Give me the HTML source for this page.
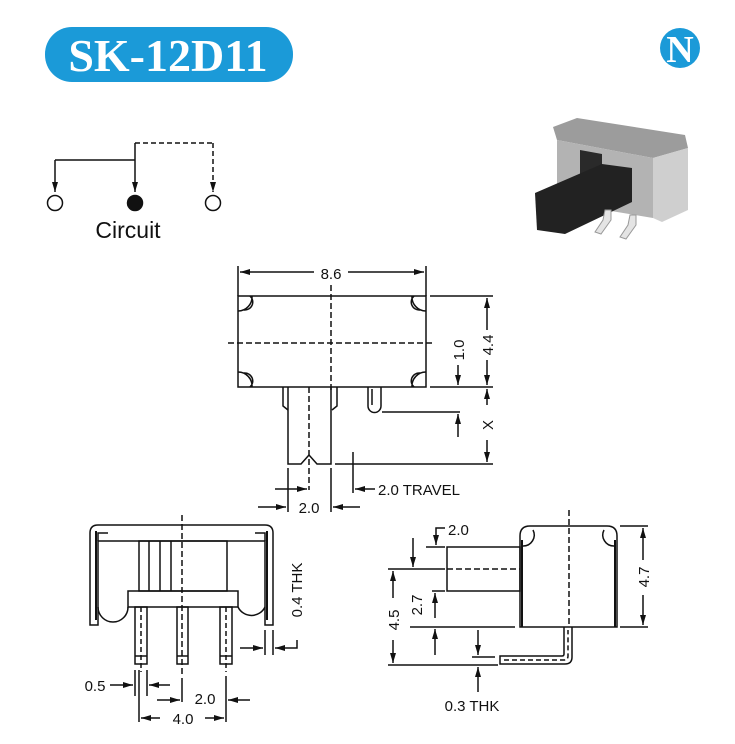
<!DOCTYPE html>
<html><head><meta charset="utf-8"><style>
html,body{margin:0;padding:0;background:#fff}
svg{display:block}
text{font-family:"Liberation Sans",Arial,sans-serif;fill:#111}
</style></head><body>
<svg width="735" height="744" viewBox="0 0 735 744" xmlns="http://www.w3.org/2000/svg">
<defs>
<marker id="a" viewBox="0 0 10 6" refX="10" refY="3" markerWidth="10" markerHeight="6" markerUnits="userSpaceOnUse" orient="auto"><path d="M0,0 L10,3 L0,6 Z" fill="#111"/></marker>
</defs>
<!-- title -->
<rect x="45" y="27" width="248" height="55" rx="27" fill="#1b9ad8"/>
<text x="168" y="71" text-anchor="middle" style="font-family:'Liberation Serif',serif;font-weight:bold;font-size:46px;fill:#fff">SK-12D11</text>
<!-- logo -->
<circle cx="680" cy="48" r="20" fill="#1b9ad8"/>
<text x="680" y="62" text-anchor="middle" style="font-family:'Liberation Serif',serif;font-weight:bold;font-size:38px;fill:#fff">N</text>
<!-- photo -->
<g>
<polygon points="553,127 577,118 685,135 688,148 653,158 557,140" fill="#9c9c9c"/>
<polygon points="557,140 653,158 653,218 557,202" fill="#b3b3b3"/>
<polygon points="653,158 688,148 688,210 662,222 653,218" fill="#cfcfcf"/>
<polygon points="580,150 602,154 602,180 580,176" fill="#2a2a2a"/>
<polygon points="535,193 602,164 632,168 632,202 565,234 537,230" fill="#222"/>
<path d="M605,210 l6,0 l0,10 l-10,14 l-6,-2 l8,-12 z" fill="#e4e4e4" stroke="#999"/>
<path d="M630,215 l6,0 l0,10 l-10,14 l-6,-2 l8,-12 z" fill="#e4e4e4" stroke="#999"/>
</g>
<!-- circuit -->
<g stroke="#111" stroke-width="1.5" fill="none">
<path d="M55,160 H135" />
<line x1="55" y1="160" x2="55" y2="192" marker-end="url(#a)"/>
<line x1="135" y1="143" x2="135" y2="192" marker-end="url(#a)"/>
<path d="M135,143 H213" stroke-dasharray="5,3"/>
<line x1="213" y1="143" x2="213" y2="192" stroke-dasharray="5,3" marker-end="url(#a)"/>
<circle cx="55" cy="203" r="7.5"/>
<circle cx="135" cy="203" r="7.5" fill="#111"/>
<circle cx="213" cy="203" r="7.5"/>
</g>
<text x="128" y="238" text-anchor="middle" font-size="23">Circuit</text>

<!-- TOP VIEW -->
<g stroke="#111" stroke-width="1.5" fill="none">
<rect x="238" y="296" width="188" height="91"/>
<path d="M238,311 a14,14 0 0 0 14,-15 M244,310 a8,8 0 0 0 6,-14 M426,311 a14,14 0 0 1 -14,-15 M420,310 a8,8 0 0 1 -6,-14 M238,372 a14,14 0 0 1 14,15 M244,373 a8,8 0 0 1 6,14 M426,372 a14,14 0 0 0 -14,15 M420,373 a8,8 0 0 0 -6,14"/>
<line x1="331" y1="285" x2="331" y2="390" stroke-dasharray="6,3"/>
<line x1="228" y1="343" x2="432" y2="343" stroke-dasharray="6,3"/>
<line x1="238" y1="266" x2="238" y2="296"/><line x1="426" y1="266" x2="426" y2="296"/>
<line x1="314" y1="272" x2="240" y2="272" marker-end="url(#a)"/>
<line x1="348" y1="272" x2="424" y2="272" marker-end="url(#a)"/>
<line x1="430" y1="296" x2="493" y2="296"/>
<line x1="430" y1="387" x2="493" y2="387"/>
<line x1="335" y1="464" x2="493" y2="464"/>
<line x1="382" y1="412" x2="460" y2="412"/>
<line x1="487" y1="330" x2="487" y2="298" marker-end="url(#a)"/>
<line x1="487" y1="360" x2="487" y2="385" marker-end="url(#a)"/>
<line x1="487" y1="405" x2="487" y2="389" marker-end="url(#a)"/>
<line x1="487" y1="440" x2="487" y2="462" marker-end="url(#a)"/>
<line x1="458" y1="365" x2="458" y2="385" marker-end="url(#a)"/>
<line x1="458" y1="437" x2="458" y2="414" marker-end="url(#a)"/>
<path d="M283,387 V406 l5,4 M337,387 V406 l-5,4"/>
<path d="M288,387 V464 H301 L309,455 L317,464 H331 V387"/>
<line x1="309" y1="387" x2="309" y2="490" stroke-dasharray="6,3"/>
<path d="M368,387 V406 a6.5,6.5 0 0 0 13,0 V387 M372,389 V405"/>
<line x1="288" y1="468" x2="288" y2="512"/>
<line x1="331" y1="468" x2="331" y2="512"/>
<line x1="353" y1="452" x2="353" y2="493"/>
<line x1="275" y1="489" x2="307" y2="489" marker-end="url(#a)"/>
<line x1="258" y1="507" x2="286" y2="507" marker-end="url(#a)"/>
<line x1="360" y1="507" x2="333" y2="507" marker-end="url(#a)"/>
<line x1="375" y1="489" x2="355" y2="489" marker-end="url(#a)"/>
</g>
<text x="331" y="279" text-anchor="middle" font-size="15">8.6</text>
<text transform="translate(493,345) rotate(-90)" text-anchor="middle" font-size="15">4.4</text>
<text transform="translate(464,350) rotate(-90)" text-anchor="middle" font-size="15">1.0</text>
<text transform="translate(493,425) rotate(-90)" text-anchor="middle" font-size="15">X</text>
<text x="378" y="495" font-size="15">2.0 TRAVEL</text>
<text x="309" y="513" text-anchor="middle" font-size="15">2.0</text>

<!-- BOTTOM LEFT -->
<g stroke="#111" stroke-width="1.5" fill="none">
<path d="M90,625 V533 q0,-8 8,-8 H265 q8,0 8,8 V625 H265 V541 H98 V625 Z"/>
<path d="M96,531 V620 M267,531 V620" stroke-width="2"/>
<path d="M98,541 V533 H108 M265,541 V533 H255"/>
<rect x="139" y="541" width="88" height="50"/>
<path d="M149,541 V591 M160,541 V591 M171,541 V591"/>
<rect x="128" y="591" width="110" height="16"/>
<path d="M98,607 a15,15 0 0 0 30,0 M238,607 a15,15 0 0 0 27,0"/>
<rect x="135" y="607" width="12" height="57"/>
<rect x="177" y="607" width="11" height="57"/>
<rect x="220" y="607" width="12" height="57"/>
<path d="M135,656 H147 M177,656 H188 M220,656 H232"/>
<line x1="141" y1="607" x2="141" y2="672" stroke-dasharray="5,3"/>
<line x1="226" y1="607" x2="226" y2="672" stroke-dasharray="5,3"/>
<line x1="182" y1="515" x2="182" y2="675" stroke-dasharray="6,3"/>
<line x1="265" y1="630" x2="265" y2="655"/>
<line x1="273" y1="630" x2="273" y2="655"/>
<line x1="240" y1="648" x2="263" y2="648" marker-end="url(#a)"/>
<path d="M297,640 V648 H275" marker-end="url(#a)"/>
<line x1="135" y1="670" x2="135" y2="696"/>
<line x1="147" y1="670" x2="147" y2="696"/>
<line x1="182" y1="678" x2="182" y2="702"/>
<line x1="139" y1="670" x2="139" y2="722"/>
<line x1="226" y1="676" x2="226" y2="722"/>
<line x1="110" y1="685" x2="133" y2="685" marker-end="url(#a)"/>
<line x1="170" y1="685" x2="149" y2="685" marker-end="url(#a)"/>
<line x1="157" y1="700" x2="180" y2="700" marker-end="url(#a)"/>
<line x1="250" y1="700" x2="228" y2="700" marker-end="url(#a)"/>
<line x1="160" y1="718" x2="141" y2="718" marker-end="url(#a)"/>
<line x1="205" y1="718" x2="224" y2="718" marker-end="url(#a)"/>
</g>
<text transform="translate(302,590) rotate(-90)" text-anchor="middle" font-size="15">0.4 THK</text>
<text x="95" y="691" text-anchor="middle" font-size="15">0.5</text>
<text x="205" y="704" text-anchor="middle" font-size="15">2.0</text>
<text x="183" y="724" text-anchor="middle" font-size="15">4.0</text>

<!-- BOTTOM RIGHT -->
<g stroke="#111" stroke-width="1.5" fill="none">
<path d="M520,627 V536 q0,-10 10,-10 H607 q10,0 10,10 V627 Z"/>
<path d="M522,540 V627 M615,540 V627" stroke-width="2"/>
<path d="M523,546 a11,11 0 0 0 10,-16 M614,546 a11,11 0 0 1 -10,-16"/>
<rect x="447" y="547" width="73" height="44"/>
<line x1="447" y1="569" x2="520" y2="569" stroke-dasharray="6,3"/>
<line x1="569" y1="510" x2="569" y2="627" stroke-dasharray="6,3"/>
<path d="M564,627 V654 q0,2 -2,2 H500 V664 H565 q7,0 7,-7 V627"/>
<path d="M504,660 H564 q4,0 4,-4 V630" stroke-dasharray="5,3"/>
<line x1="620" y1="526" x2="648" y2="526"/>
<line x1="620" y1="627" x2="648" y2="627"/>
<line x1="643" y1="560" x2="643" y2="528" marker-end="url(#a)"/>
<line x1="643" y1="595" x2="643" y2="625" marker-end="url(#a)"/>
<line x1="426" y1="547" x2="445" y2="547"/>
<path d="M445,528 H436 V545" marker-end="url(#a)"/>
<line x1="413" y1="538" x2="413" y2="567" marker-end="url(#a)"/>
<line x1="388" y1="569" x2="445" y2="569"/>
<line x1="432" y1="591" x2="445" y2="591"/>
<line x1="435" y1="618" x2="435" y2="593" marker-end="url(#a)"/>
<line x1="410" y1="627" x2="515" y2="627"/>
<line x1="388" y1="665" x2="498" y2="665"/>
<line x1="435" y1="655" x2="435" y2="629" marker-end="url(#a)"/>
<line x1="393" y1="598" x2="393" y2="571" marker-end="url(#a)"/>
<line x1="393" y1="640" x2="393" y2="663" marker-end="url(#a)"/>
<line x1="472" y1="657" x2="495" y2="657"/>
<line x1="478" y1="630" x2="478" y2="655" marker-end="url(#a)"/>
<line x1="478" y1="692" x2="478" y2="667" marker-end="url(#a)"/>
</g>
<text x="448" y="535" font-size="15">2.0</text>
<text transform="translate(422,605) rotate(-90)" text-anchor="middle" font-size="15">2.7</text>
<text transform="translate(399,620) rotate(-90)" text-anchor="middle" font-size="15">4.5</text>
<text transform="translate(649,577) rotate(-90)" text-anchor="middle" font-size="15">4.7</text>
<text x="472" y="711" text-anchor="middle" font-size="15">0.3 THK</text>
</svg>
</body></html>
